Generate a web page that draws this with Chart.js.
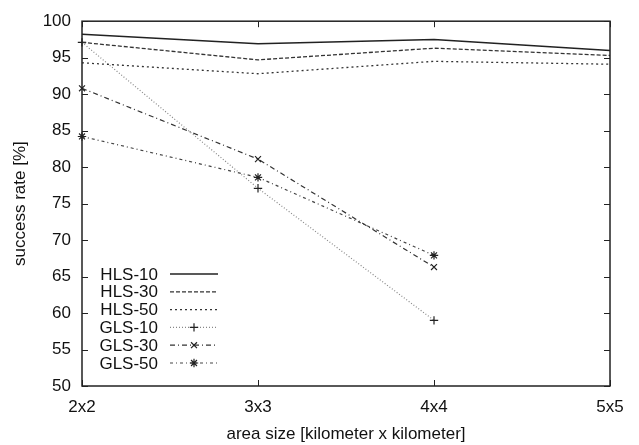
<!DOCTYPE html>
<html>
<head>
<meta charset="utf-8">
<script src="https://cdn.jsdelivr.net/npm/chart.js@4/dist/chart.umd.min.js"></script>
<style>
  body { margin: 0; background: #fff; }
  #wrap { width: 639px; height: 445px; }
</style>
</head>
<body>
<div id="wrap"><canvas id="rateChart" width="639" height="445"></canvas></div>
<script>
const areaSizes = ['2x2', '3x3', '4x4', '5x5'];
const seriesNames = ['HLS-10', 'HLS-30', 'HLS-50', 'GLS-10', 'GLS-30', 'GLS-50'];
const hls10 = [98.2, 96.9, 97.5, 96.0];
const hls30 = [97.1, 94.7, 96.3, 95.3];
const hls50 = [94.3, 92.8, 94.5, 94.1];
const gls10 = [97.1, 77.1, 59.0, null];
const gls30 = [90.8, 81.1, 66.3, null];
const gls50 = [84.2, 78.6, 67.9, null];
const yTicks = [50, 55, 60, 65, 70, 75, 80, 85, 90, 95, 100];

const FONT = 'Liberation Sans, Arial, Helvetica, sans-serif';
const FSIZE = 17;

function makeSet(name, values, color, dash, width, marker) {
  return {
    label: name,
    data: values,
    borderColor: color,
    backgroundColor: color,
    borderWidth: width,
    borderDash: dash,
    pointStyle: marker || false,
    pointRadius: marker ? 4.2 : 0,
    pointBorderWidth: 1.2,
    pointBorderColor: '#222',
    tension: 0,
    spanGaps: false
  };
}

const datasets = [
  makeSet(seriesNames[0], hls10, '#222', [], 1.5),
  makeSet(seriesNames[1], hls30, '#333', [4, 2], 1.3),
  makeSet(seriesNames[2], hls50, '#333', [2, 3], 1.3),
  makeSet(seriesNames[3], gls10, '#888', [1, 2], 1.2, 'cross'),
  makeSet(seriesNames[4], gls30, '#333', [5, 3, 1, 3], 1.2, 'crossRot'),
  makeSet(seriesNames[5], gls50, '#444', [3, 3, 1, 3], 1.2, 'star')
];

// gnuplot-like frame with inward ticks
const framePlugin = {
  id: 'frame',
  afterDatasetsDraw(chart) {
    const ctx = chart.ctx;
    const a = chart.chartArea;
    const xs = chart.scales.x;
    const ys = chart.scales.y;
    ctx.save();
    ctx.strokeStyle = '#222';
    ctx.lineWidth = 1.5;
    ctx.strokeRect(a.left, a.top, a.right - a.left, a.bottom - a.top);
    ctx.lineWidth = 1;
    ctx.beginPath();
    yTicks.forEach(v => {
      const y = Math.round(ys.getPixelForValue(v)) + 0.5;
      ctx.moveTo(a.left, y); ctx.lineTo(a.left + 6, y);
      ctx.moveTo(a.right, y); ctx.lineTo(a.right - 6, y);
    });
    areaSizes.forEach((c, i) => {
      const x = Math.round(xs.getPixelForValue(i)) + 0.5;
      ctx.moveTo(x, a.bottom); ctx.lineTo(x, a.bottom - 6);
      ctx.moveTo(x, a.top); ctx.lineTo(x, a.top + 6);
    });
    ctx.stroke();

    // legend inside the plot, bottom left
    ctx.font = FSIZE + 'px ' + FONT;
    ctx.fillStyle = '#111';
    ctx.textAlign = 'right';
    ctx.textBaseline = 'middle';
    chart.data.datasets.forEach((ds, i) => {
      const y = 274 + i * 17.8;
      ctx.fillText(ds.label, 158, y + 1);
      ctx.save();
      ctx.strokeStyle = ds.borderColor;
      ctx.lineWidth = ds.borderWidth;
      ctx.setLineDash(ds.borderDash);
      ctx.beginPath();
      ctx.moveTo(170, y); ctx.lineTo(218, y);
      ctx.stroke();
      ctx.restore();
      if (ds.pointStyle) {
        ctx.save();
        ctx.strokeStyle = ds.pointBorderColor;
        ctx.fillStyle = ds.pointBorderColor;
        ctx.lineWidth = ds.pointBorderWidth;
        Chart.helpers.drawPoint(ctx, { pointStyle: ds.pointStyle, radius: ds.pointRadius, borderWidth: ds.pointBorderWidth }, 194, y);
        ctx.restore();
      }
    });
    ctx.restore();
  }
};

new Chart(document.getElementById('rateChart'), {
  type: 'line',
  data: { labels: areaSizes, datasets: datasets },
  options: {
    responsive: false,
    animation: false,
    layout: { padding: { top: 13, right: 29, left: 0, bottom: 0 } },
    plugins: { legend: { display: false }, tooltip: { enabled: false } },
    scales: {
      x: {
        type: 'category',
        offset: false,
        grid: { display: false, drawTicks: false },
        border: { display: false },
        ticks: { color: '#111', padding: 11, font: { family: FONT, size: FSIZE } },
        title: {
          display: true, text: 'area size [kilometer x kilometer]', color: '#111',
          font: { family: FONT, size: FSIZE }, padding: { top: 0, bottom: 0 }
        },
        afterFit(scale) { scale.height = 59; }
      },
      y: {
        min: 50,
        max: 100,
        grid: { display: false, drawTicks: false },
        border: { display: false },
        ticks: { stepSize: 5, color: '#111', padding: 11, font: { family: FONT, size: FSIZE } },
        title: {
          display: true, text: 'success rate [%]', color: '#111',
          font: { family: FONT, size: FSIZE }, padding: { top: 10, bottom: 0 }
        },
        afterFit(scale) { scale.width = 82; }
      }
    }
  },
  plugins: [framePlugin]
});
</script>
</body>
</html>
